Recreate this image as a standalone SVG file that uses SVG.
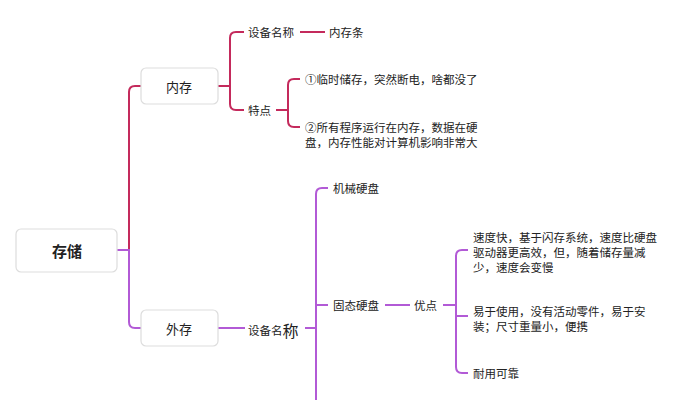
<svg xmlns="http://www.w3.org/2000/svg" width="682" height="400" viewBox="0 0 682 400">
<style>
text{font-family:"Noto Sans CJK SC","Noto Sans",sans-serif;font-size:11.5px;fill:#222;dominant-baseline:central}
.box{fill:#fff;stroke:#ddd;stroke-width:1.2}
.r{fill:none;stroke:#c42a5c;stroke-width:2}
.p{fill:none;stroke:#b25ad6;stroke-width:2}
</style>
<rect width="682" height="400" fill="#fff"/>
<g id="connectors">
<path class="r" d="M117,250 H129 V92 Q129,86 135,86 H141"/>
<path class="p" d="M117,250 H129 V322 Q129,328 135,328 H141"/>
<path class="r" d="M218,86 H230 M244,32 H236 Q230,32 230,38 V104 Q230,110 236,110 H244"/>
<path class="r" d="M300,32 H325"/>
<path class="r" d="M276,110 H288 M300,79 H294 Q288,79 288,85 V121 Q288,127 294,127 H300"/>
<path class="p" d="M218,328 H245 M305,328 H316"/>
<path class="p" d="M328,188 H322 Q316,188 316,194 V400 M316,305 H328"/>
<path class="p" d="M385,305 H410 M443,305 H456"/>
<path class="p" d="M468,250 H462 Q456,250 456,256 V367 Q456,373 462,373 H468 M456,316 H468"/>
</g>
<g id="n-root"><rect class="box" x="16" y="229" width="101" height="43" rx="5"/><text x="67" y="250" text-anchor="middle" style="font-size:15px;font-weight:bold">存储</text></g>
<g id="n-nc"><rect class="box" x="141" y="68" width="77" height="36" rx="5"/><text x="179" y="86" text-anchor="middle" style="font-size:13px">内存</text></g>
<g id="n-wc"><rect class="box" x="141" y="310" width="77" height="36" rx="5"/><text x="179" y="328" text-anchor="middle" style="font-size:13px">外存</text></g>
<g id="n-a"><text x="248" y="32">设备名称</text></g>
<g id="n-b"><text x="329" y="32">内存条</text></g>
<g id="n-c"><text x="248" y="110">特点</text></g>
<g id="n-d"><text x="305" y="79">①临时储存，突然断电，啥都没了</text></g>
<g id="n-e"><text x="305" y="127">②所有程序运行在内存，数据在硬</text><text x="305" y="142">盘，内存性能对计算机影响非常大</text></g>
<g id="n-f"><text x="248" y="330">设备名<tspan style="font-size:16px">称</tspan></text></g>
<g id="n-g"><text x="333" y="188">机械硬盘</text></g>
<g id="n-h"><text x="333" y="305">固态硬盘</text></g>
<g id="n-i"><text x="414" y="305">优点</text></g>
<g id="n-j"><text x="473" y="237">速度快，基于闪存系统，速度比硬盘</text><text x="473" y="252">驱动器更高效，但，随着储存量减</text><text x="473" y="267">少，速度会变慢</text></g>
<g id="n-k"><text x="473" y="311">易于使用，没有活动零件，易于安</text><text x="473" y="326">装；尺寸重量小，便携</text></g>
<g id="n-l"><text x="473" y="373">耐用可靠</text></g>
</svg>
